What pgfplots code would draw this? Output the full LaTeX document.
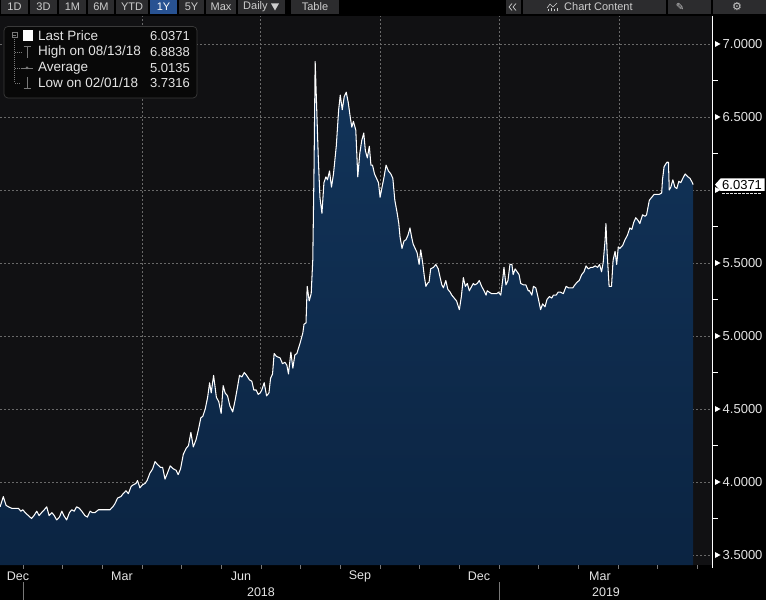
\documentclass[border=0pt]{standalone}
\usepackage{pgfplots}
\usepackage{pgfplotstable}
\pgfplotsset{compat=1.18}
\usepackage{fontspec}
\setmainfont{Liberation Sans}
\newfontfamily\dejavu{DejaVu Sans}
\definecolor{plotbg}{RGB}{17,17,19}
\definecolor{gridc}{RGB}{105,105,105}
\definecolor{btn}{RGB}{44,44,46}
\definecolor{btnblue}{RGB}{40,82,146}
\definecolor{btntext}{RGB}{205,205,205}
\definecolor{fillTop}{RGB}{18,52,90}
\definecolor{fillBot}{RGB}{11,36,66}
\definecolor{labc}{RGB}{228,228,228}
\definecolor{tickc}{RGB}{120,120,120}
\definecolor{legbg}{RGB}{8,8,8}
\definecolor{legbd}{RGB}{58,58,58}

\pgfplotstableread{
m v
-0.60 3.83
-0.52 3.90
-0.45 3.84
-0.39 3.83
-0.31 3.82
-0.23 3.82
-0.14 3.82
-0.08 3.80
-0.03 3.81
0.03 3.79
0.11 3.77
0.19 3.75
0.25 3.77
0.32 3.80
0.38 3.77
0.44 3.79
0.51 3.81
0.57 3.83
0.63 3.77
0.70 3.79
0.76 3.77
0.82 3.74
0.89 3.76
0.95 3.80
1.00 3.77
1.07 3.74
1.14 3.79
1.20 3.81
1.26 3.80
1.32 3.83
1.39 3.82
1.45 3.80
1.53 3.77
1.59 3.76
1.66 3.80
1.72 3.79
1.78 3.79
1.87 3.81
1.91 3.81
1.99 3.81
2.08 3.81
2.16 3.81
2.23 3.83
2.28 3.85
2.35 3.89
2.43 3.90
2.49 3.92
2.56 3.94
2.62 3.92
2.69 3.97
2.74 3.98
2.81 3.99
2.85 4.01
2.91 3.96
2.97 3.98
3.04 3.99
3.09 4.01
3.16 4.06
3.23 4.09
3.29 4.14
3.35 4.12
3.43 4.10
3.48 4.10
3.54 4.02
3.60 4.06
3.67 4.11
3.75 4.09
3.82 4.08
3.87 4.05
3.93 4.09
4.00 4.19
4.07 4.23
4.13 4.25
4.19 4.34
4.25 4.24
4.32 4.29
4.38 4.36
4.44 4.44
4.49 4.45
4.55 4.50
4.61 4.58
4.66 4.68
4.70 4.61
4.76 4.73
4.83 4.58
4.89 4.55
4.95 4.47
5.00 4.66
5.05 4.61
5.11 4.59
5.17 4.52
5.24 4.48
5.30 4.56
5.36 4.65
5.41 4.73
5.47 4.72
5.53 4.75
5.59 4.73
5.66 4.70
5.72 4.69
5.77 4.63
5.83 4.63
5.88 4.60
5.93 4.61
5.97 4.63
6.03 4.68
6.09 4.59
6.15 4.61
6.19 4.71
6.24 4.74
6.28 4.88
6.34 4.86
6.43 4.85
6.49 4.81
6.55 4.82
6.60 4.80
6.64 4.74
6.70 4.89
6.75 4.78
6.80 4.87
6.85 4.88
6.93 4.95
7.00 5.02
7.03 5.08
7.08 5.09
7.11 5.34
7.16 5.24
7.21 5.29
7.25 5.52
7.28 6.11
7.31 6.88
7.39 6.21
7.43 5.95
7.48 5.84
7.53 6.05
7.58 6.09
7.62 6.07
7.67 6.13
7.72 6.02
7.77 6.11
7.84 6.30
7.90 6.55
7.94 6.65
7.99 6.55
8.04 6.64
8.09 6.67
8.14 6.60
8.19 6.50
8.23 6.43
8.27 6.47
8.33 6.41
8.38 6.09
8.43 6.25
8.48 6.34
8.53 6.39
8.57 6.27
8.62 6.22
8.67 6.30
8.71 6.17
8.75 6.17
8.80 6.11
8.85 6.08
8.90 6.05
8.94 5.95
8.99 6.02
9.04 6.09
9.09 6.17
9.15 6.13
9.21 6.11
9.26 6.08
9.31 5.93
9.37 5.84
9.41 5.77
9.44 5.68
9.49 5.60
9.54 5.65
9.59 5.66
9.64 5.69
9.69 5.74
9.73 5.68
9.77 5.63
9.82 5.60
9.87 5.57
9.92 5.49
9.96 5.59
10.01 5.50
10.05 5.41
10.09 5.34
10.13 5.36
10.17 5.37
10.21 5.46
10.28 5.47
10.34 5.49
10.40 5.46
10.44 5.41
10.49 5.35
10.53 5.33
10.59 5.38
10.64 5.32
10.70 5.30
10.74 5.28
10.80 5.26
10.86 5.24
10.93 5.18
10.98 5.27
11.03 5.40
11.08 5.34
11.13 5.36
11.18 5.31
11.24 5.34
11.28 5.36
11.32 5.35
11.38 5.36
11.43 5.38
11.49 5.34
11.55 5.31
11.60 5.28
11.63 5.31
11.68 5.30
11.74 5.29
11.80 5.29
11.87 5.29
11.91 5.30
11.97 5.28
12.02 5.39
12.05 5.47
12.10 5.35
12.15 5.38
12.20 5.49
12.25 5.49
12.28 5.42
12.33 5.46
12.38 5.44
12.43 5.42
12.47 5.36
12.54 5.35
12.60 5.35
12.66 5.31
12.69 5.31
12.75 5.28
12.79 5.34
12.85 5.33
12.91 5.26
12.97 5.18
13.02 5.22
13.08 5.20
13.13 5.25
13.19 5.27
13.25 5.26
13.29 5.28
13.36 5.28
13.41 5.30
13.47 5.30
13.54 5.29
13.61 5.34
13.67 5.33
13.73 5.33
13.78 5.33
13.83 5.35
13.89 5.37
13.94 5.38
14.00 5.42
14.06 5.44
14.11 5.48
14.17 5.46
14.23 5.47
14.28 5.47
14.34 5.48
14.40 5.47
14.45 5.49
14.50 5.44
14.54 5.50
14.59 5.66
14.61 5.77
14.64 5.57
14.69 5.34
14.75 5.34
14.79 5.52
14.84 5.58
14.88 5.49
14.92 5.61
14.96 5.60
15.03 5.62
15.09 5.66
15.15 5.69
15.21 5.74
15.26 5.73
15.31 5.78
15.36 5.81
15.42 5.79
15.46 5.77
15.53 5.83
15.59 5.82
15.63 5.83
15.70 5.93
15.76 5.95
15.82 5.97
15.89 5.97
15.95 5.97
16.01 5.98
16.03 6.07
16.07 6.16
16.14 6.19
16.18 6.19
16.20 6.00
16.24 6.02
16.29 6.07
16.34 6.02
16.39 6.01
16.44 6.06
16.49 6.05
16.54 6.08
16.60 6.11
16.67 6.09
16.72 6.08
16.78 6.05
16.80 6.0371
}\pricedata

\begin{document}
\begin{tikzpicture}[x=1pt,y=1pt]
% whole background
\fill[black] (0,-35) rectangle (766,565);

% ---------- toolbar ----------
\begin{scope}[every node/.style={text=btntext, font=\fontsize{11}{12}\selectfont, inner sep=0pt}]
\foreach \a/\b/\t in {0/29/1D, 29/58/3D, 58/87/1M, 87/115/6M, 115/149/YTD, 178/205/5Y, 205/237/Max, 290/340/Table}{
  \fill[btn] (\a+0.6,551) rectangle (\b-0.6,565);
  \node at ({(\a+\b)/2},558) {\t};
}
\fill[btnblue] (149.6,551) rectangle (177.4,565);
\node[text=white] at (163.5,558) {1Y};
\fill[btn] (237.6,551) rectangle (285.4,565);
\node[anchor=west] at (243,558) {Daily};
\fill[btntext] (271,561.5) -- (279,561.5) -- (275,554.5) -- cycle;
\fill[btn] (506,551) rectangle (521.4,565);
\draw[btntext, line width=0.7pt] (512,561.5) -- (509,558) -- (512,554.5) (516,561.5) -- (513,558) -- (516,554.5);
\fill[btn] (522.6,551) rectangle (666.4,565);
\draw[btntext, line width=0.6pt] (547,557) -- (550,561) -- (553,558) -- (557,562);
\draw[btntext, line width=0.9pt] (548,553.5) -- (548,555.5) (551,553.5) -- (551,556.5) (554,553.5) -- (554,555.5) (557,553.5) -- (557,557);
\node[anchor=west] at (564,558) {Chart Content};
\fill[btn] (667.6,551) rectangle (711.4,565);
\node[font=\dejavu\fontsize{10}{11}\selectfont] at (680,558) {✎};
\fill[btn] (713,551) rectangle (766,565);
\node[font=\dejavu\fontsize{11}{12}\selectfont] at (737,558) {⚙};
\end{scope}

% ---------- main axis ----------
\begin{axis}[
  at={(0,0)}, anchor=south west,
  scale only axis, width=712pt, height=549pt,
  xmin=-0.6026, xmax=17.273, ymin=3.4315, ymax=7.1918,
  axis background/.style={fill=plotbg},
  axis line style={draw=none},
  xtick={2.963,5.925,8.938,11.926,14.94},
  xticklabels={},
  ytick={3.5,4.0,4.5,5.0,5.5,6.0,6.5,7.0},
  yticklabels={3.5000,4.0000,4.5000,5.0000,5.5000,{},6.5000,7.0000},
  yticklabel pos=right,
  ytick pos=right, xtick pos=bottom,
  major tick length=0pt,
  grid=major,
  major grid style={gridc, line width=0.6pt, dash pattern=on 2pt off 2pt},
  scaled y ticks=false,
  yticklabel style={anchor=west, inner sep=0pt, xshift=10.5pt,
    text=labc, font=\fontsize{13}{14}\selectfont},
  clip mode=individual,
]
\addplot[draw=none, top color=fillTop, bottom color=fillBot] table[x=m, y=v] {\pricedata} \closedcycle;
\addplot[white, line width=1.05pt, line join=round] table[x=m, y=v] {\pricedata};
\end{axis}

% ---------- right axis decorations ----------
\draw[white, line width=0.9pt] (712.6,-3) -- (712.6,549);
\foreach \y in {10,83,156,229,302,375,448,521}{
  \fill[white] (715,\y+3) -- (720.5,\y) -- (715,\y-3) -- cycle;
}
\foreach \y in {46.5,119.5,192.5,265.5,338.5,411.5,484.5}{
  \draw[white, line width=0.7pt] (712.6,\y) -- (717.5,\y);
}
% current price marker (covers the 6.0000 level)
\fill[white] (715,380.4) -- (720.5,386.5) -- (764.5,386.5) -- (764.5,374) -- (720.5,374) -- cycle;
\node[anchor=west, inner sep=0pt, text=black, font=\fontsize{13}{14}\selectfont] at (722,380.4) {6.0371};
\draw[labc, line width=0.8pt, dash pattern=on 2.5pt off 1.5pt] (722,372) -- (762,372);

% ---------- bottom axis decorations ----------
\foreach \x in {62.7,102.3,142,181.7,221.3,261,300.7,340.4,380,419.7,459.4,538.7,578.4,618,657.7,697.4}{
  \draw[tickc, line width=0.6pt] (\x,0) -- (\x,-3.5);
}
\draw[tickc, line width=0.6pt] (23,0) -- (23,-3.5) (23,-17) -- (23,-35);
\draw[tickc, line width=0.6pt] (499,0) -- (499,-3.5) (499,-17) -- (499,-35);
\begin{scope}[every node/.style={text=labc, font=\fontsize{12.5}{13}\selectfont, inner sep=0pt}]
\node at (18,-11) {Dec};
\node at (122,-11) {Mar};
\node at (241,-11) {Jun};
\node at (360,-11) {Sep};
\node at (479,-11) {Dec};
\node at (600,-11) {Mar};
\node at (261,-27) {2018};
\node at (606,-27) {2019};
\end{scope}

% ---------- legend ----------
\draw[rounded corners=4pt, draw=legbd, fill=legbg, line width=0.7pt] (4,467) rectangle (197,538.5);
\begin{scope}[every node/.style={text=labc, inner sep=0pt}]
\node[anchor=west, font=\fontsize{13.5}{14}\selectfont] at (38,529) {Last Price};
\node[anchor=west, font=\fontsize{13.5}{14}\selectfont] at (38,513) {High on 08/13/18};
\node[anchor=west, font=\fontsize{13.5}{14}\selectfont] at (38,497) {Average};
\node[anchor=west, font=\fontsize{13.5}{14}\selectfont] at (38,482) {Low on 02/01/18};
\node[anchor=east, font=\fontsize{13}{14}\selectfont] at (190,529) {6.0371};
\node[anchor=east, font=\fontsize{13}{14}\selectfont] at (190,513) {6.8838};
\node[anchor=east, font=\fontsize{13}{14}\selectfont] at (190,497) {5.0135};
\node[anchor=east, font=\fontsize{13}{14}\selectfont] at (190,482) {3.7316};
\end{scope}
\draw[tickc, line width=0.5pt] (12,527.5) rectangle (17,532.5) (13,530) -- (16,530);
\fill[white] (22.5,524) rectangle (33,534.5);
\draw[tickc, line width=0.5pt, dash pattern=on 1pt off 1pt] (14.5,527.5) -- (14.5,482) -- (21,482) (14.5,513) -- (21,513) (14.5,497) -- (21,497);
\draw[tickc, line width=0.7pt] (23.5,519) -- (30.5,519) (27,519) -- (27,507);
\draw[tickc, line width=0.7pt] (21,497) -- (33,497);
\fill[tickc] (27,497) circle (1.5pt);
\draw[tickc, line width=0.7pt] (27,488) -- (27,476.5) (23.5,476.5) -- (30.5,476.5);

\pgfresetboundingbox
\path (0,-35) rectangle (766,565);
\end{tikzpicture}
\end{document}
